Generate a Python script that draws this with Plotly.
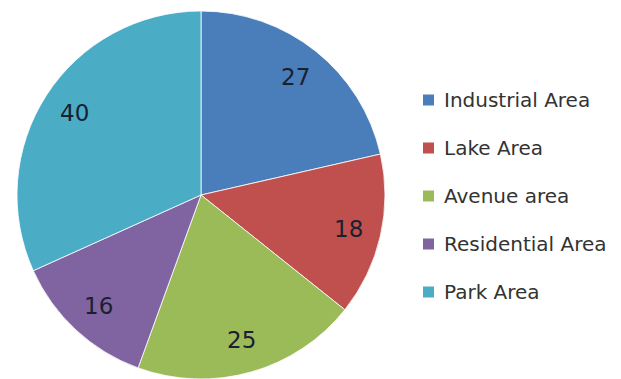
import math
import plotly.graph_objects as go

# Data
categories = ["Industrial Area", "Lake Area", "Avenue area", "Residential Area", "Park Area"]
values = [27, 18, 25, 16, 40]
colors = ["#4A7EBB", "#C0504D", "#9BBB59", "#8064A2", "#4BACC6"]

W, H = 621, 379
cx, cy, R = 201, 195, 184  # pie centre / radius in pixels

fig = go.Figure(go.Pie(
    labels=categories,
    values=values,
    sort=False,
    direction="clockwise",
    rotation=0,
    marker=dict(colors=colors, line=dict(color="rgba(255,255,255,0.8)", width=1)),
    textinfo="none",
    hoverinfo="label+value",
    showlegend=False,
    domain=dict(x=[(cx - R) / W, (cx + R) / W], y=[(H - cy - R) / H, (H - cy + R) / H]),
))

# Value labels placed along each slice's bisector
total = sum(values)
start = 0.0
annotations = []
for v in values:
    mid = (start + v / 2) / total * 2 * math.pi
    start += v
    px = cx + 0.82 * R * math.sin(mid)
    py = cy - 0.82 * R * math.cos(mid)
    annotations.append(dict(
        x=px / W, y=1 - py / H, xref="paper", yref="paper",
        text=str(v), showarrow=False,
        font=dict(family="DejaVu Sans", size=23, color="#1a2030"),
        xanchor="center", yanchor="middle",
    ))

# Legend: colour swatches with category names
shapes = []
lx, ly0, step, sw = 423, 100, 48, 11
for i, (cat, col) in enumerate(zip(categories, colors)):
    y = ly0 + i * step
    shapes.append(dict(
        type="rect", xref="paper", yref="paper",
        x0=lx / W, x1=(lx + sw) / W, y0=1 - (y + sw / 2) / H, y1=1 - (y - sw / 2) / H,
        fillcolor=col, line=dict(width=0),
    ))
    annotations.append(dict(
        x=(lx + sw + 8) / W, y=1 - y / H, xref="paper", yref="paper",
        text=cat, showarrow=False, xanchor="left", yanchor="middle",
        font=dict(family="DejaVu Sans", size=20, color="#333333"),
    ))

fig.update_layout(
    width=W, height=H,
    margin=dict(l=0, r=0, t=0, b=0),
    paper_bgcolor="white",
    plot_bgcolor="white",
    annotations=annotations,
    shapes=shapes,
)

fig.write_html("out.html")
